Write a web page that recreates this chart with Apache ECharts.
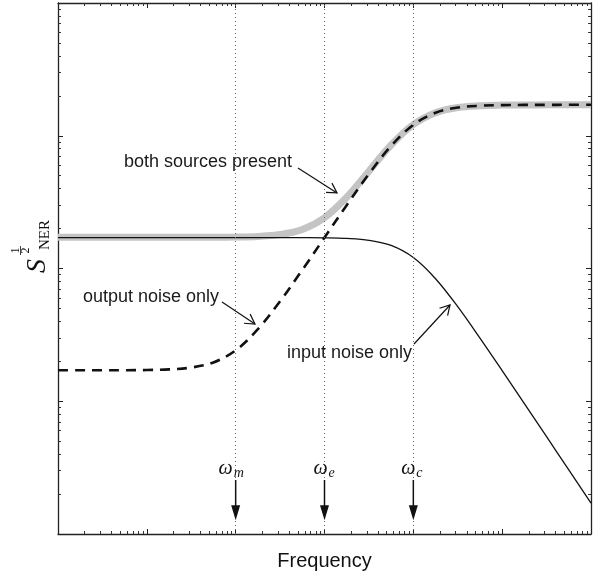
<!DOCTYPE html>
<html>
<head>
<meta charset="utf-8">
<script src="https://cdn.jsdelivr.net/npm/echarts@6/dist/echarts.min.js"></script>
<style>
  html, body { margin: 0; padding: 0; background: #ffffff; }
  #chart { width: 597px; height: 576px; }
</style>
</head>
<body>
<div id="chart"></div>
<script>
// Frequency samples (quarter-decade steps)
const frequency = [1, 1.778, 3.162, 5.623, 10, 17.78, 31.62, 56.23, 100, 177.8, 316.2, 562.3,
  1000, 1778, 3162, 5623, 10000, 17780, 31620, 56230, 100000, 177800, 316200, 562300, 1000000];

// Noise-equivalent spectral density for each case
const inputNoiseOnly = [171, 171, 171, 171, 171, 171, 171, 171, 171, 171, 170.9, 170.7,
  170.2, 168.4, 163.1, 149.1, 120.9, 83.8, 51.6, 29.9, 17.0, 9.6, 5.41, 3.04, 1.71];
const outputNoiseOnly = [17.1, 17.1, 17.1, 17.13, 17.19, 17.37, 17.94, 19.61, 24.18, 34.88, 56.71, 97.5,
  171.0, 299.9, 515.9, 838.3, 1209, 1490, 1631, 1683, 1701, 1707, 1709, 1710, 1710];
const bothSources = [171.9, 171.9, 171.9, 171.9, 171.9, 171.9, 171.9, 172.1, 172.7, 174.5, 180.2, 196.6,
  241.3, 343.9, 541.1, 851.5, 1215, 1492, 1632, 1683, 1701, 1707, 1709, 1710, 1710];

// Characteristic frequencies marked on the plot
const markerFreqs = [100, 1000, 10000];
const markerSubs = ['m', 'e', 'c'];

// Text annotations: label anchor (left edge, middle) and arrow tail/tip, in data units
const annotations = [
  { text: 'both sources present', at: [5.53, 634], tail: [503, 572], tip: [1383, 371] },
  { text: 'output noise only', at: [1.91, 61], tail: [70.2, 56], tip: [165, 38.2] },
  { text: 'input noise only', at: [378, 23.1], tail: [10180, 27], tip: [25880, 53.1] }
];

const pairs = (ys) => frequency.map((f, i) => [f, ys[i]]);

const axisCommon = {
  type: 'log',
  logBase: 10,
  axisLabel: { show: false },
  axisLine: { show: true, lineStyle: { color: '#222', width: 1.3 } },
  axisTick: { show: true, inside: true, length: 5, lineStyle: { color: '#222', width: 1 } },
  minorTick: { show: true, splitNumber: 9, length: 3, lineStyle: { color: '#333', width: 1 } },
  splitLine: { show: false },
  minorSplitLine: { show: false }
};

const chart = echarts.init(document.getElementById('chart'), null, { renderer: 'canvas' });

const option = {
  animation: false,
  backgroundColor: '#ffffff',
  grid: { left: 58, right: 6, top: 3, bottom: 42, containLabel: false, outerBoundsMode: 'none' },
  xAxis: [
    Object.assign({}, axisCommon, {
      position: 'bottom', min: 1, max: 1000000,
      name: 'Frequency', nameLocation: 'middle', nameGap: 17,
      nameTextStyle: { fontFamily: 'Liberation Sans, Arial, sans-serif', fontSize: 20, color: '#111' }
    }),
    Object.assign({}, axisCommon, { position: 'top', min: 1, max: 1000000 })
  ],
  yAxis: [
    Object.assign({}, axisCommon, { position: 'left', min: 1, max: 10000 }),
    Object.assign({}, axisCommon, { position: 'right', min: 1, max: 10000 })
  ],
  series: [
    {
      name: 'both sources present', type: 'line', xAxisIndex: 0, yAxisIndex: 0,
      data: pairs(bothSources), showSymbol: false, smooth: 0.35,
      lineStyle: { color: '#c4c4c4', width: 7, cap: 'butt' }, z: 2,
      markLine: {
        silent: true, symbol: ['none', 'none'], label: { show: false },
        lineStyle: { color: '#666', width: 1, type: [1, 3] },
        data: markerFreqs.map(f => ({ xAxis: f }))
      }
    },
    {
      name: 'input noise only', type: 'line', xAxisIndex: 0, yAxisIndex: 0,
      data: pairs(inputNoiseOnly), showSymbol: false, smooth: 0.35,
      lineStyle: { color: '#111', width: 1.3 }, z: 3
    },
    {
      name: 'output noise only', type: 'line', xAxisIndex: 0, yAxisIndex: 0,
      data: pairs(outputNoiseOnly), showSymbol: false, smooth: 0.35,
      lineStyle: { color: '#111', width: 2.6, type: [10, 7] }, z: 4
    }
  ]
};

chart.setOption(option);

const toPx = (p) => chart.convertToPixel({ xAxisIndex: 0, yAxisIndex: 0 }, p);

function openArrow(tail, tip) {
  const a = toPx(tail), b = toPx(tip);
  const ang = Math.atan2(b[1] - a[1], b[0] - a[0]);
  const L = 11, spread = Math.PI / 6;
  const w1 = [b[0] - L * Math.cos(ang - spread), b[1] - L * Math.sin(ang - spread)];
  const w2 = [b[0] - L * Math.cos(ang + spread), b[1] - L * Math.sin(ang + spread)];
  return [
    { type: 'line', shape: { x1: a[0], y1: a[1], x2: b[0], y2: b[1] }, style: { stroke: '#111', lineWidth: 1.2 }, z: 10 },
    { type: 'polyline', shape: { points: [w1, b, w2] }, style: { stroke: '#111', lineWidth: 1.2, fill: null }, z: 10 }
  ];
}

const graphics = [];

annotations.forEach(an => {
  const p = toPx(an.at);
  graphics.push({
    type: 'text', x: p[0], y: p[1], z: 10,
    style: { text: an.text, fill: '#1a1a1a', font: '18px "Liberation Sans", Arial, sans-serif', align: 'left', verticalAlign: 'middle' }
  });
  graphics.push(...openArrow(an.tail, an.tip));
});

// Frequency markers: omega labels with downward filled arrows
const omegaRightOffset = [-3, 3, 2];
markerFreqs.forEach((f, i) => {
  const lab = toPx([f, 3.1]);
  const top = toPx([f, 2.55]);
  const tip = toPx([f, 1.27]);
  const xr = lab[0] + omegaRightOffset[i];
  graphics.push({
    type: 'text', x: xr, y: lab[1], z: 10,
    style: { text: 'ω', fill: '#111', font: 'italic 20px "Liberation Serif", "DejaVu Serif", serif', align: 'right', verticalAlign: 'middle' }
  });
  graphics.push({
    type: 'text', x: xr + 1, y: lab[1] + 5, z: 10,
    style: { text: markerSubs[i], fill: '#111', font: 'italic 14px "Liberation Serif", "DejaVu Serif", serif', align: 'left', verticalAlign: 'middle' }
  });
  graphics.push({
    type: 'line', z: 10,
    shape: { x1: top[0], y1: top[1], x2: tip[0], y2: tip[1] - 12 },
    style: { stroke: '#111', lineWidth: 1.5 }
  });
  graphics.push({
    type: 'polygon', z: 10,
    shape: { points: [[tip[0] - 4.5, tip[1] - 15], [tip[0] + 4.5, tip[1] - 15], [tip[0], tip[1]]] },
    style: { fill: '#111', stroke: null }
  });
});

// Vertical axis title: S^{1/2}_{NER}
const serif = '"Liberation Serif", "DejaVu Serif", serif';
graphics.push(
  { type: 'text', x: 38, y: 266, rotation: Math.PI / 2, z: 10,
    style: { text: 'S', fill: '#111', font: 'italic 28px ' + serif, align: 'center', verticalAlign: 'middle' } },
  { type: 'text', x: 45, y: 235, rotation: Math.PI / 2, z: 10,
    style: { text: 'NER', fill: '#111', font: '15px ' + serif, align: 'center', verticalAlign: 'middle' } },
  { type: 'text', x: 15.5, y: 250.5, rotation: Math.PI / 2, z: 10,
    style: { text: '1', fill: '#111', font: '12px ' + serif, align: 'center', verticalAlign: 'middle' } },
  { type: 'text', x: 26, y: 250.5, rotation: Math.PI / 2, z: 10,
    style: { text: '2', fill: '#111', font: '12px ' + serif, align: 'center', verticalAlign: 'middle' } },
  { type: 'line', z: 10, shape: { x1: 20.5, y1: 246, x2: 20.5, y2: 255 }, style: { stroke: '#111', lineWidth: 0.8 } }
);

chart.setOption({ graphic: graphics });
</script>
</body>
</html>
